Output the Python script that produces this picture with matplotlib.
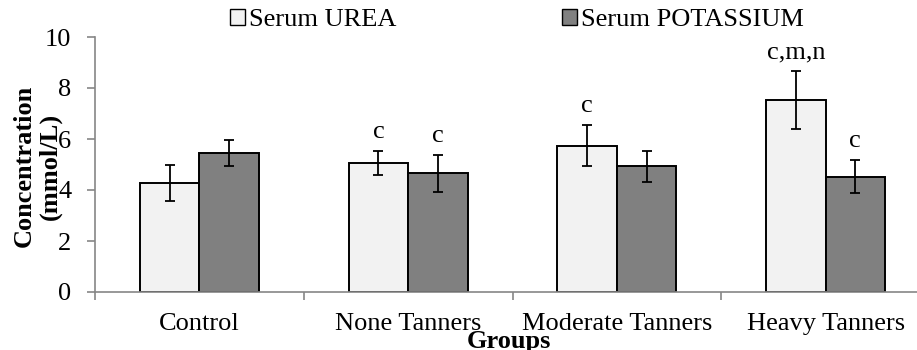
import matplotlib
matplotlib.use("Agg")
import matplotlib.pyplot as plt
from matplotlib.patches import Patch
import numpy as np

plt.rcParams['font.family'] = ['Liberation Serif', 'DejaVu Serif']
plt.rcParams['font.size'] = 19

groups = ["Control", "None Tanners", "Moderate Tanners", "Heavy Tanners"]
urea = [4.27, 5.05, 5.74, 7.53]
urea_err = [0.70, 0.47, 0.80, 1.12]
potassium = [5.46, 4.65, 4.93, 4.52]
potassium_err = [0.50, 0.72, 0.60, 0.64]
urea_labels = ["", "c", "c", "c,m,n"]
potassium_labels = ["", "c", "", "c"]
series_names = ["Serum UREA", "Serum POTASSIUM"]

fig = plt.figure(figsize=(9.17, 3.5), dpi=100)
ax = fig.add_axes([95/917, 58/350, 835/917, 255/350])

x = np.arange(len(groups))
w = 0.285
c_urea = "#F2F2F2"
c_k = "#808080"
ekw = dict(ecolor="black", elinewidth=1.3, capsize=3.3, capthick=1.3)
ax.bar(x - w/2, urea, w, color=c_urea, edgecolor="black", linewidth=1.4,
       yerr=urea_err, error_kw=ekw, zorder=2)
ax.bar(x + w/2, potassium, w, color=c_k, edgecolor="black", linewidth=1.4,
       yerr=potassium_err, error_kw=ekw, zorder=2)

for i in range(len(groups)):
    if urea_labels[i]:
        ax.annotate(urea_labels[i], (x[i] - w/2, urea[i] + urea_err[i]),
                    xytext=(0, 14), textcoords="offset points",
                    ha="center", va="center")
    if potassium_labels[i]:
        ax.annotate(potassium_labels[i], (x[i] + w/2, potassium[i] + potassium_err[i]),
                    xytext=(0, 14), textcoords="offset points",
                    ha="center", va="center")

ax.set_xlim(-0.5, 3.5)
ax.set_ylim(0, 10)
ax.set_yticks([0, 2, 4, 6, 8, 10])
ax.set_xticks(x)
ax.set_xticklabels(groups)
ax.set_xticks(np.arange(-0.5, 3.6, 1.0), minor=True)
ax.tick_params(axis="x", which="major", length=0, pad=15)
ax.tick_params(axis="x", which="minor", length=6, color="#868686", width=1.2)
ax.tick_params(axis="y", length=6, color="#868686", width=1.2, pad=11)

for s in ["top", "right"]:
    ax.spines[s].set_visible(False)
for s in ["left", "bottom"]:
    ax.spines[s].set_color("#868686")
    ax.spines[s].set_linewidth(1.2)

fig.text(37/917, (350-166)/350, "Concentration\n(mmol/L)", rotation=90,
         ha="center", va="center", fontweight="bold",
         multialignment="center", linespacing=1.15)
fig.text(509/917, 1 - 330/350, "Groups", ha="center", va="top",
         fontweight="bold")

handles = [Patch(facecolor=c_urea, edgecolor="black", linewidth=1.0),
           Patch(facecolor=c_k, edgecolor="black", linewidth=1.0)]
fig.legend(handles, series_names, ncol=2, loc="center",
           bbox_to_anchor=(517/917, 1 - 20/350), frameon=False,
           handlelength=0.55, handleheight=0.55, handletextpad=0.15,
           columnspacing=6.3, borderpad=0)

fig.savefig("out.png", dpi=100)
